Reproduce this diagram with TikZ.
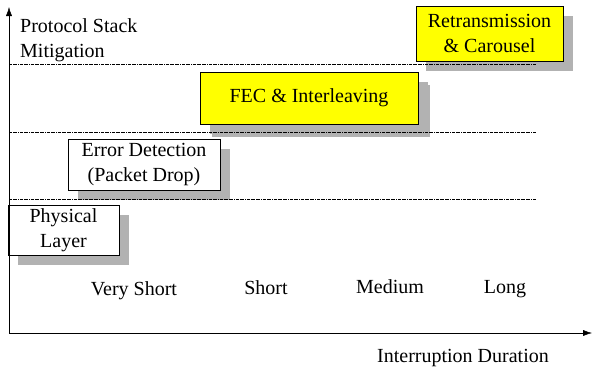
\documentclass[tikz,border=0pt]{standalone}
\usepackage{fontspec}
\setmainfont{Liberation Serif}
\usepackage{tikz}
\usetikzlibrary{arrows.meta,positioning,shadows}
\definecolor{shadowgray}{RGB}{178,178,178}
\definecolor{boxyellow}{RGB}{255,255,0}

\begin{document}
\begin{tikzpicture}[x=1pt,y=-1pt,
        txt/.style={font=\fontsize{20}{25}\selectfont, inner sep=0pt},
        layerbox/.style={draw, fill=white, thin, align=center, txt,
            drop shadow={shadow xshift=10pt, shadow yshift=-10pt, opacity=1, fill=shadowgray}},
        sep/.style={densely dash dot, thin}
    ]
    \useasboundingbox (0,0) rectangle (592,367);
    % boxes (drawn first, the separators go over the shadows)
    \node[layerbox, minimum width=111pt, minimum height=50pt] (phys) at (63.5,230) {Physical\\Layer};
    \node[layerbox, minimum width=152pt, minimum height=51pt] (errdet) at (144,164.5) {Error Detection\\(Packet Drop)};
    \node[layerbox, fill=boxyellow, minimum width=218pt, minimum height=52pt,
        drop shadow={shadow xshift=12pt, shadow yshift=-13pt, opacity=1, fill=shadowgray}] (fec) at (309,98) {FEC \& Interleaving};
    \node[layerbox, fill=boxyellow, minimum width=147pt, minimum height=55pt] (retx) at (489.5,33.5) {Retransmission\\\& Carousel};
    % axes
    \coordinate (origin) at (9,333);
    \coordinate (ytip) at (9,7);
    \coordinate (xtip) at (592,333);
    \draw[-{Latex[length=9pt,width=6pt]}] (origin) -- (ytip);
    \draw[-{Latex[length=9pt,width=6pt]}] (origin) -- (xtip);
    % separators
    \foreach \y [count=\i] in {64,132,199}{
        \coordinate (s\i a) at (9,\y);
        \coordinate (s\i b) at (536,\y);
        \draw[sep] (s\i a) -- (s\i b);
    }
    % labels
    \node[txt, anchor=base west, align=left] (ylabel) at (20,57) {Protocol Stack\\Mitigation};
    \node[txt, anchor=base] (vshort) at (134,295) {Very Short};
    \node[txt, anchor=base] (short) at (266,294) {Short};
    \node[txt, anchor=base] (medium) at (390,293) {Medium};
    \node[txt, anchor=base] (long) at (505,293) {Long};
    \node[txt, anchor=base] (xlabel) at (463,362) {Interruption Duration};
\end{tikzpicture}
\end{document}
